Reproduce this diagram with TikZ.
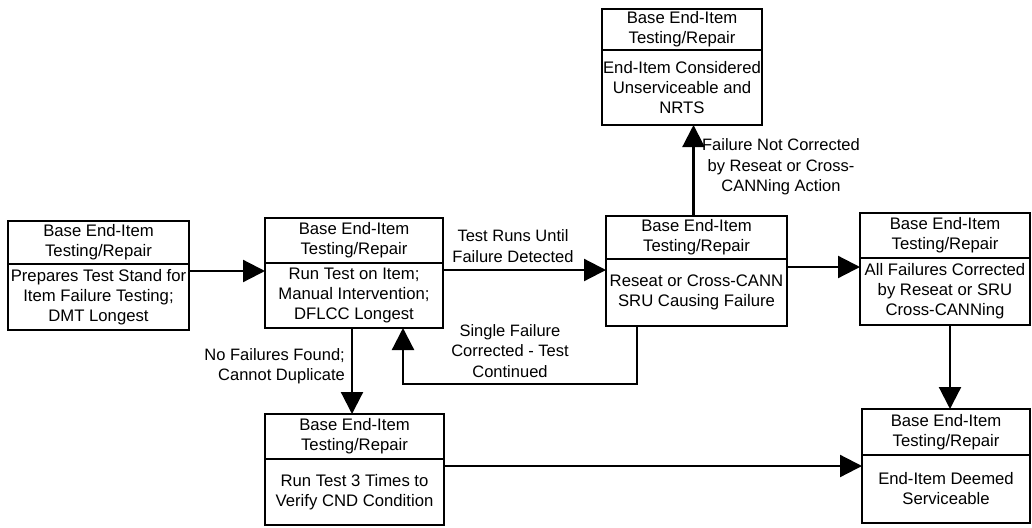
\documentclass[tikz,border=0pt]{standalone}
\usepackage{fontspec}
\setmainfont{Liberation Sans}
\usetikzlibrary{arrows.meta,calc}
\begin{document}
\begin{tikzpicture}[x=1pt,y=-1pt,
  boxpart/.style={draw, line width=2pt, inner sep=0pt, outer sep=0pt, align=center,
    font=\fontsize{16.7}{20}\selectfont},
  flow/.style={line width=2.2pt, -{Triangle[length=22pt,width=22pt]}},
  lbl/.style={align=center, inner sep=0pt, font=\fontsize{16.5}{20.5}\selectfont}]
\useasboundingbox (0,0) rectangle (1032,527);

% each step: a title part on top of a body part
\node[boxpart, minimum width=181pt, minimum height=43pt, anchor=north west] (b1t) at (8,221) {Base End-Item\\Testing/Repair};
\node[boxpart, minimum width=181pt, minimum height=66pt, anchor=north] (b1b) at (b1t.south) {Prepares Test Stand for\\Item Failure Testing;\\DMT Longest};

\node[boxpart, minimum width=178pt, minimum height=45pt, anchor=north west] (b2t) at (265,218) {Base End-Item\\Testing/Repair};
\node[boxpart, minimum width=178pt, minimum height=65pt, anchor=north] (b2b) at (b2t.south) {Run Test on Item;\\Manual Intervention;\\DFLCC Longest};

\node[boxpart, minimum width=181pt, minimum height=43pt, anchor=north west] (b3t) at (606,216) {Base End-Item\\Testing/Repair};
\node[boxpart, minimum width=181pt, minimum height=67pt, anchor=north] (b3b) at (b3t.south) {Reseat or Cross-CANN\\SRU Causing Failure};

\node[boxpart, minimum width=170pt, minimum height=45pt, anchor=north west] (b4t) at (860,213) {Base End-Item\\Testing/Repair};
\node[boxpart, minimum width=170pt, minimum height=67pt, anchor=north] (b4b) at (b4t.south) {All Failures Corrected\\by Reseat or SRU\\Cross-CANNing};

\node[boxpart, minimum width=179pt, minimum height=45pt, anchor=north west] (b5t) at (265,414) {Base End-Item\\Testing/Repair};
\node[boxpart, minimum width=179pt, minimum height=66pt, anchor=north] (b5b) at (b5t.south) {Run Test 3 Times to\\Verify CND Condition};

\node[boxpart, minimum width=168pt, minimum height=46pt, anchor=north west] (b6t) at (862,409) {Base End-Item\\Testing/Repair};
\node[boxpart, minimum width=168pt, minimum height=68pt, anchor=north] (b6b) at (b6t.south) {End-Item Deemed\\Serviceable};

\node[boxpart, minimum width=160pt, minimum height=41pt, anchor=north west] (b7t) at (602,9) {Base End-Item\\Testing/Repair};
\node[boxpart, minimum width=160pt, minimum height=75pt, anchor=north] (b7b) at (b7t.south) {End-Item Considered\\Unserviceable and\\NRTS};

% connectors
\draw[flow] ([yshift=-7pt]b1b.north east) -- ([yshift=-7pt]b1b.north east -| b2b.west);
\draw[flow] ([yshift=-7pt]b2b.north east) -- ([yshift=-7pt]b2b.north east -| b3b.west);
\draw[flow] ([yshift=-8pt]b3b.north east) -- ([yshift=-8pt]b3b.north east -| b4b.west);
\draw[flow] ([yshift=-7pt]b5b.north east) -- ([yshift=-7pt]b5b.north east -| b6b.west);
\draw[flow] ([xshift=-3pt]b3t.north) -- ([xshift=-3pt]b3t.north |- b7b.south);
\draw[flow] ([xshift=5pt]b4b.south) -- ([xshift=5pt]b4b.south |- b6t.north);
\draw[flow] ([xshift=-2pt]b2b.south) -- ([xshift=-2pt]b2b.south |- b5t.north);
\draw[flow] ([xshift=31pt]b3b.south west) -- ++(0,58) -| ([xshift=138pt]b2b.south west);

% connector labels
\node[lbl] (l23) at (513,246) {Test Runs Until\\Failure Detected};
\node[lbl] (l37) at (781,167) {Failure Not Corrected\\by Reseat or Cross-\\CANNing Action};
\node[lbl, align=right, anchor=east] (l25) at (345,366) {No Failures Found;\\Cannot Duplicate};
\node[lbl] (l32) at (510,351) {Single Failure\\Corrected - Test\\Continued};
\end{tikzpicture}
\end{document}
